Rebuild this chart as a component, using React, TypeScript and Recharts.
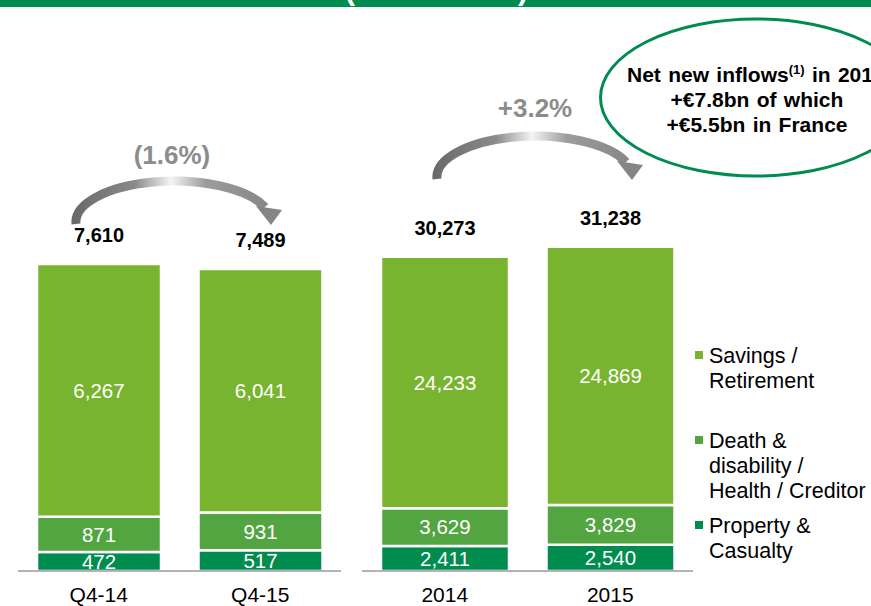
import React from 'react';
import { BarChart, Bar, XAxis, YAxis, LabelList } from 'recharts';

const quarters = ['Q4-14', 'Q4-15'];
const qPropertyCasualty = [472, 517];
const qDeathDisability = [871, 931];
const qSavings = [6267, 6041];
const qTotals = [7610, 7489];

const years = ['2014', '2015'];
const yPropertyCasualty = [2411, 2540];
const yDeathDisability = [3629, 3829];
const ySavings = [24233, 24869];
const yTotals = [30273, 31238];

const quarterChange = '(1.6%)';
const yearChange = '+3.2%';

const seriesNames = ['Savings / Retirement', 'Death & disability / Health / Creditor', 'Property & Casualty'];
const legendLines = [['Savings /', 'Retirement'], ['Death &', 'disability /', 'Health / Creditor'], ['Property &', 'Casualty']];

const C_SR = '#78B42F';
const C_DD = '#52A540';
const C_PC = '#008B4F';
const HEADER = '#008C50';
const FONT = '"Liberation Sans", Arial, Helvetica, sans-serif';

const qData = quarters.map((c, i) => ({ cat: c, pc: qPropertyCasualty[i], dd: qDeathDisability[i], sr: qSavings[i], total: qTotals[i] }));
const yData = years.map((c, i) => ({ cat: c, pc: yPropertyCasualty[i], dd: yDeathDisability[i], sr: ySavings[i], total: yTotals[i] }));

const fmt = (v: any) => Number(v).toLocaleString('en-US');

const TotalLabel = (props: any) => {
  const vb = props.viewBox || props;
  const x = vb.x ?? props.x;
  const y = vb.y ?? props.y;
  const w = vb.width ?? props.width;
  return (
    <text x={x + w / 2} y={y - 22} textAnchor="middle" fontFamily={FONT} fontWeight="bold" fontSize={20} fill="#000">
      {fmt(props.value)}
    </text>
  );
};

const Tick = (props: any) => {
  const { x, y, payload } = props;
  return (
    <text x={x} y={y + 31} textAnchor="middle" fontFamily={FONT} fontSize={21} fill="#000">
      {payload.value}
    </text>
  );
};

function Stack({ data, max, top, left, right, width, barSize }: any) {
  return (
    <BarChart width={width} height={606} data={data} margin={{ top, right, bottom: 5, left }} barCategoryGap={0}>
      <XAxis dataKey="cat" height={30} tickLine={false} tickSize={0} tickMargin={0} axisLine={{ stroke: '#9a9a9a', strokeWidth: 1.5 }} tick={<Tick />} interval={0} />
      <YAxis hide domain={[0, max]} allowDataOverflow type="number" />
      <Bar dataKey="pc" name={seriesNames[2]} stackId="s" fill={C_PC} stroke="#fff" strokeWidth={2.5} barSize={barSize} isAnimationActive={false}>
        <LabelList dataKey="pc" position="center" fill="#fff" fontFamily={FONT} fontSize={20.5} formatter={fmt} />
      </Bar>
      <Bar dataKey="dd" name={seriesNames[1]} stackId="s" fill={C_DD} stroke="#fff" strokeWidth={2.5} barSize={barSize} isAnimationActive={false}>
        <LabelList dataKey="dd" position="center" fill="#fff" fontFamily={FONT} fontSize={20.5} formatter={fmt} />
      </Bar>
      <Bar dataKey="sr" name={seriesNames[0]} stackId="s" fill={C_SR} stroke="#fff" strokeWidth={2.5} barSize={barSize} isAnimationActive={false}>
        <LabelList dataKey="sr" position="center" fill="#fff" fontFamily={FONT} fontSize={20.5} formatter={fmt} />
        <LabelList dataKey="total" content={<TotalLabel />} />
      </Bar>
    </BarChart>
  );
}

function Arrow({ id, dx, dy }: any) {
  return (
    <g transform={`translate(${dx},${dy})`}>
      <defs>
        <linearGradient id={id} x1="70" y1="0" x2="285" y2="0" gradientUnits="userSpaceOnUse">
          <stop offset="0" stopColor="#686868" />
          <stop offset="0.3" stopColor="#8a8a8a" />
          <stop offset="0.47" stopColor="#f4f4f4" />
          <stop offset="0.63" stopColor="#9c9c9c" />
          <stop offset="1" stopColor="#818181" />
        </linearGradient>
      </defs>
      <path d="M 76 224 A 98 41 0 0 1 265 207" fill="none" stroke={`url(#${id})`} strokeWidth={9} />
      <polygon points="256,206 282,210 271,225" fill="#858585" />
    </g>
  );
}

export default function App() {
  const legendColors = [C_SR, C_DD, C_PC];
  const legendTop = [355, 440, 525];
  return (
    <div style={{ position: 'absolute', left: 0, top: 0, width: 871, height: 606, background: '#fff', fontFamily: FONT, overflow: 'hidden' }}>
      <div style={{ position: 'absolute', left: 0, top: 0 }}>
        <Stack data={qData} max={12000} top={87} left={18} right={19} width={360} barSize={124} />
      </div>
      <div style={{ position: 'absolute', left: 340, top: 0 }}>
        <Stack data={yData} max={45000} top={104} left={22} right={178} width={531} barSize={128} />
      </div>
      <svg width={871} height={606} style={{ position: 'absolute', left: 0, top: 0, pointerEvents: 'none' }}>
        <defs>
          <clipPath id="hdr">
            <rect x={0} y={0} width={871} height={7} />
          </clipPath>
        </defs>
        <rect x={0} y={0} width={871} height={7} fill={HEADER} />
        <g clipPath="url(#hdr)">
          <text x={345} y={0} fontFamily={FONT} fontWeight="bold" fontSize={30} fill="#fff">(</text>
          <text x={518} y={0} fontFamily={FONT} fontWeight="bold" fontSize={30} fill="#fff">)</text>
        </g>

        <Arrow id="ga1" dx={0} dy={0} />
        <Arrow id="ga2" dx={361} dy={-45} />
        <text x={172} y={164} textAnchor="middle" fontFamily={FONT} fontWeight="bold" fontSize={26} fill="#8c8c8c">{quarterChange}</text>
        <text x={535} y={117} textAnchor="middle" fontFamily={FONT} fontWeight="bold" fontSize={26} fill="#8c8c8c">{yearChange}</text>

        <ellipse cx={756} cy={97.5} rx={155.5} ry={78.5} fill="none" stroke={HEADER} strokeWidth={3} />
        <text x={627} y={82} fontFamily={FONT} fontWeight="bold" fontSize={21} wordSpacing={1.5} fill="#000">
          Net new inflows<tspan fontSize={13} dy={-8}>(1)</tspan><tspan dy={8}> in 2015</tspan>
        </text>
        <text x={757} y={107} textAnchor="middle" fontFamily={FONT} fontWeight="bold" fontSize={21} wordSpacing={1.5} fill="#000">+€7.8bn of which</text>
        <text x={757} y={132} textAnchor="middle" fontFamily={FONT} fontWeight="bold" fontSize={21} wordSpacing={1.5} fill="#000">+€5.5bn in France</text>

        {legendLines.map((lines, i) => (
          <g key={i}>
            <rect x={695} y={legendTop[i] - 4} width={8} height={8} fill={legendColors[i]} />
            {lines.map((l, j) => (
              <text key={j} x={709} y={legendTop[i] + 25 * j + 7.5} fontFamily={FONT} fontSize={21.5} fill="#000">{l}</text>
            ))}
          </g>
        ))}
      </svg>
    </div>
  );
}
